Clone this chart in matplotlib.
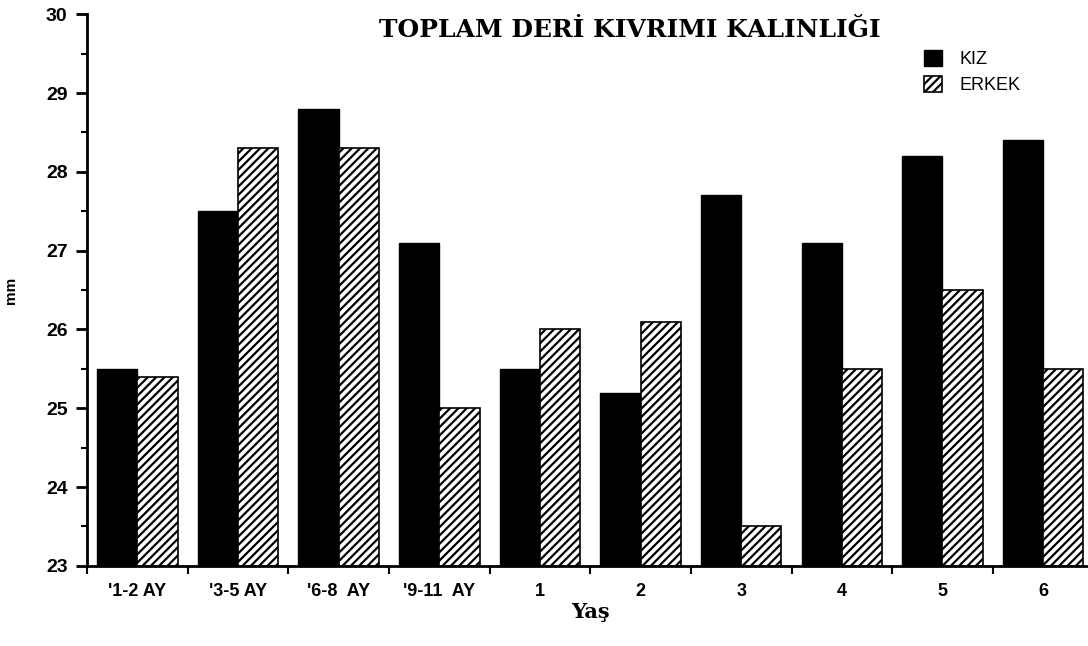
import matplotlib
matplotlib.use("Agg")
import matplotlib.pyplot as plt
import numpy as np
from matplotlib.ticker import MultipleLocator, FixedLocator

groups = ["'1-2 AY", "'3-5 AY", "'6-8  AY", "'9-11  AY", "1", "2", "3", "4", "5", "6"]
kiz = [25.5, 27.5, 28.8, 27.1, 25.5, 25.2, 27.7, 27.1, 28.2, 28.4]
erkek = [25.4, 28.3, 28.3, 25.0, 26.0, 26.1, 23.5, 25.5, 26.5, 25.5]

plt.rcParams["hatch.linewidth"] = 1.6
sans = ["Liberation Sans Narrow", "Liberation Sans", "DejaVu Sans"]
serif = ["DejaVu Serif", "Liberation Serif"]

fig = plt.figure(figsize=(10.88, 6.46), dpi=100)
ax = fig.add_axes([0.08, 0.124, 0.925, 0.854])

x = np.arange(len(groups))
w = 0.40
ax.bar(x + 0.5 - w / 2, np.array(kiz) - 23, w, bottom=23, color="black",
       edgecolor="black", label="KIZ")
ax.bar(x + 0.5 + w / 2, np.array(erkek) - 23, w, bottom=23, color="white",
       edgecolor="black", hatch="////", linewidth=1.2, label="ERKEK")

ax.set_xlim(0, len(groups))
ax.set_ylim(23, 30)
ax.spines["top"].set_visible(False)
ax.spines["right"].set_visible(False)
ax.spines["left"].set_linewidth(2)
ax.spines["bottom"].set_linewidth(2)

ax.yaxis.set_major_locator(MultipleLocator(1))
ax.yaxis.set_minor_locator(MultipleLocator(0.5))
ax.tick_params(axis="y", which="major", length=8, width=2, direction="out", pad=6)
ax.tick_params(axis="y", which="minor", length=4, width=1.5, direction="out")

ax.set_xticks(x + 0.5)
ax.set_xticklabels(groups)
ax.xaxis.set_minor_locator(FixedLocator(np.arange(len(groups) + 1)))
ax.tick_params(axis="x", which="major", length=0, pad=12)
ax.tick_params(axis="x", which="minor", length=6, width=1.5, direction="out")

for lab in ax.get_yticklabels():
    lab.set_fontfamily(sans)
    lab.set_fontweight("bold")
    lab.set_fontsize(14)
for lab in ax.get_xticklabels():
    lab.set_fontfamily(sans)
    lab.set_fontweight("bold")
    lab.set_fontsize(13)

ax.set_ylabel("mm", family=sans, fontweight="bold", fontsize=11, labelpad=20)
ax.set_xlabel("Yaş", family=serif, fontweight="bold", fontsize=15, labelpad=2)
fig.text(0.579, 0.953, "TOPLAM DERİ KIVRIMI KALINLIĞI", family=serif,
         fontweight="bold", fontsize=18, ha="center", va="center")

leg = ax.legend(loc="upper left", bbox_to_anchor=(0.815, 0.965), frameon=False,
                prop={"family": sans, "size": 13}, handlelength=1.0,
                handleheight=1.0, handletextpad=1.0, labelspacing=0.45)

fig.savefig("out.png", dpi=100)
